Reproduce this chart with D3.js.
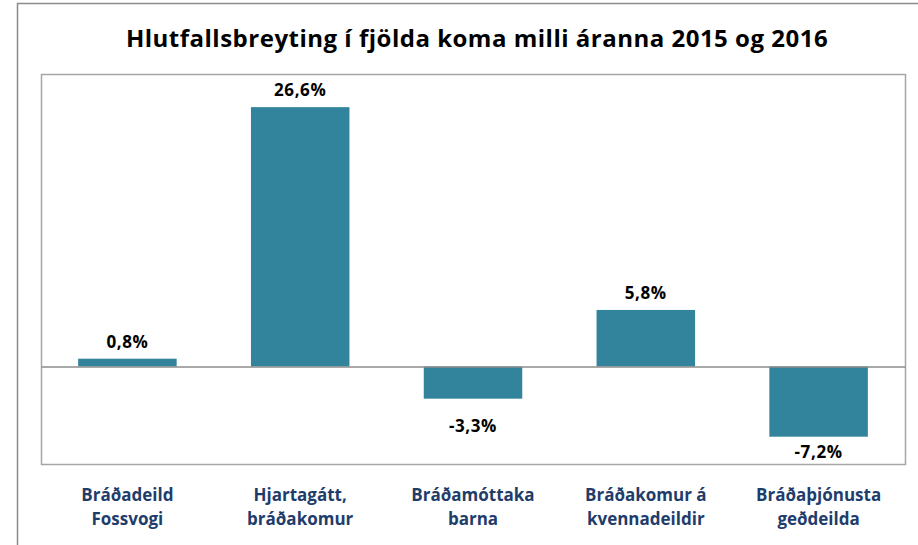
<!DOCTYPE html>
<html>
<head>
<meta charset="utf-8">
<script src="https://cdn.jsdelivr.net/npm/d3@7"></script>
<style>
  body { margin: 0; background: #fff; }
  svg { display: block; font-family: "Open Sans", Lato, sans-serif; }
</style>
</head>
<body>
<div id="chart"></div>
<script>
// chart data
const titleText = "Hlutfallsbreyting í fjölda koma milli áranna 2015 og 2016";
const categories = [
  ["Bráðadeild", "Fossvogi"],
  ["Hjartagátt,", "bráðakomur"],
  ["Bráðamóttaka", "barna"],
  ["Bráðakomur á", "kvennadeildir"],
  ["Bráðaþjónusta", "geðdeilda"]
];
const values = [0.8, 26.6, -3.3, 5.8, -7.2];
const valueLabels = ["0,8%", "26,6%", "-3,3%", "5,8%", "-7,2%"];

const w = 918, h = 545;
const plot = {left: 41, right: 905, top: 74, bottom: 464};

const svg = d3.select("#chart").append("svg")
  .attr("width", w)
  .attr("height", h);

// outer chart frame
svg.append("rect")
  .attr("x", 17.5).attr("y", 3.5)
  .attr("width", 920).attr("height", 560)
  .attr("fill", "none")
  .attr("stroke", "#8c8c8c")
  .attr("stroke-width", 1.5);

svg.append("text")
  .attr("x", 477)
  .attr("y", 47)
  .attr("text-anchor", "middle")
  .attr("font-size", 24)
  .attr("font-weight", "bold")
  .attr("letter-spacing", 0.5)
  .attr("fill", "#000")
  .text(titleText);

const xScale = d3.scaleBand()
  .domain(d3.range(values.length))
  .range([plot.left, plot.right])
  .paddingInner(0.43)
  .paddingOuter(0.215);

const yScale = d3.scaleLinear()
  .domain([-10, 30])
  .range([plot.bottom, plot.top]);

// plot area border
svg.append("rect")
  .attr("x", plot.left + 0.5).attr("y", plot.top + 0.5)
  .attr("width", plot.right - plot.left).attr("height", plot.bottom - plot.top)
  .attr("fill", "none")
  .attr("stroke", "#a6a6a6")
  .attr("stroke-width", 1.5);

svg.selectAll("rect.bar")
  .data(values)
  .enter()
  .append("rect")
  .attr("class", "bar")
  .attr("x", (d, i) => xScale(i))
  .attr("width", xScale.bandwidth())
  .attr("y", d => yScale(Math.max(0, d)))
  .attr("height", d => Math.abs(yScale(d) - yScale(0)))
  .attr("fill", "#31849b");

// zero line
const xAxis = d3.axisBottom(xScale).tickSize(0).tickFormat("");
svg.append("g")
  .attr("transform", "translate(0," + yScale(0) + ")")
  .call(xAxis)
  .call(g => g.select(".domain").attr("stroke", "#8c8c8c").attr("stroke-width", 1.5));

svg.selectAll("text.val")
  .data(values)
  .enter()
  .append("text")
  .attr("class", "val")
  .attr("x", (d, i) => xScale(i) + xScale.bandwidth() / 2)
  .attr("y", d => d >= 0 ? yScale(d) - 11 : Math.min(yScale(d) + 33, plot.bottom - 6))
  .attr("text-anchor", "middle")
  .attr("font-size", 17)
  .attr("font-weight", "bold")
  .attr("letter-spacing", 0.6)
  .attr("fill", "#000")
  .text((d, i) => valueLabels[i]);

const cats = svg.selectAll("text.cat")
  .data(categories)
  .enter()
  .append("text")
  .attr("class", "cat")
  .attr("text-anchor", "middle")
  .attr("font-size", 17)
  .attr("font-weight", "bold")
  .attr("fill", "#1f3d6b");

cats.selectAll("tspan")
  .data((d, i) => d.map(t => ({t: t, i: i})))
  .enter()
  .append("tspan")
  .attr("x", d => xScale(d.i) + xScale.bandwidth() / 2)
  .attr("y", (d, j) => 501 + j * 23.5)
  .text(d => d.t);
</script>
</body>
</html>
